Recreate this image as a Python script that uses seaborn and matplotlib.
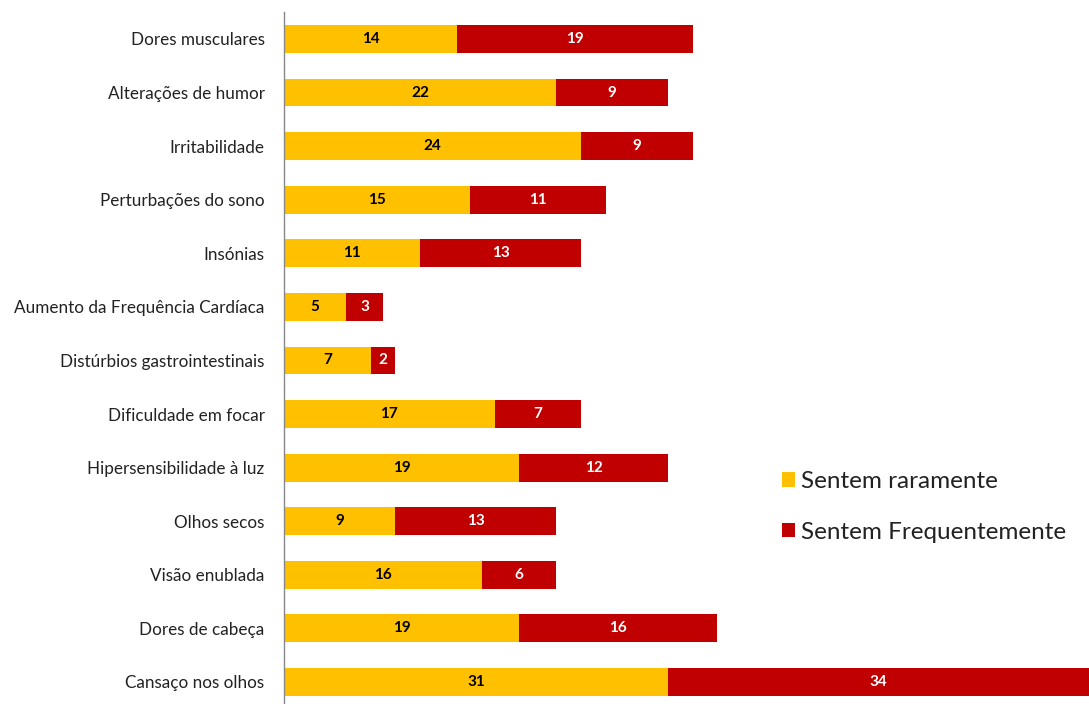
import matplotlib
matplotlib.use("Agg")
import matplotlib.pyplot as plt
from matplotlib.patches import Patch
import seaborn as sns
import pandas as pd

categories = ["Dores musculares", "Alterações de humor", "Irritabilidade",
              "Perturbações do sono", "Insónias", "Aumento da Frequência Cardíaca",
              "Distúrbios gastrointestinais", "Dificuldade em focar",
              "Hipersensibilidade à luz", "Olhos secos", "Visão enublada",
              "Dores de cabeça", "Cansaço nos olhos"]
raramente = [14, 22, 24, 15, 11, 5, 7, 17, 19, 9, 16, 19, 31]
frequentemente = [19, 9, 9, 11, 13, 3, 2, 7, 12, 13, 6, 16, 34]
series_names = ["Sentem raramente", "Sentem Frequentemente"]

yellow = "#FFC000"
red = "#C00000"

sns.set_style("white")
plt.rcParams['font.family'] = ['Lato', 'DejaVu Sans']

df = pd.DataFrame({"cat": categories, "rare": raramente, "freq": frequentemente})
df["total"] = df["rare"] + df["freq"]

fig = plt.figure(figsize=(10.89, 7.04), dpi=100)
ax = fig.add_axes([284/1089, -0.0068, (1089-284)/1089, 0.9895])

sns.barplot(data=df, y="cat", x="total", color=red, width=0.52, ax=ax,
            orient="h", saturation=1, linewidth=0)
sns.barplot(data=df, y="cat", x="rare", color=yellow, width=0.52, ax=ax,
            orient="h", saturation=1, linewidth=0)

for i, (r, f) in enumerate(zip(raramente, frequentemente)):
    ax.text(r / 2, i, str(r), ha="center", va="center", fontsize=11,
            fontweight="bold", color="black")
    ax.text(r + f / 2, i, str(f), ha="center", va="center", fontsize=11,
            fontweight="bold", color="white")

ax.set_xlim(0, 65)
ax.set_ylim(len(categories) - 0.5, -0.5)
ax.set_xlabel("")
ax.set_ylabel("")
ax.set_xticks([])
ax.tick_params(axis="y", length=0, pad=14, labelsize=12.3, labelcolor="#222222")
for s in ["top", "right", "bottom"]:
    ax.spines[s].set_visible(False)
ax.spines["left"].set_color("#888888")
ax.spines["left"].set_linewidth(1)

handles = [Patch(facecolor=yellow, edgecolor="none"), Patch(facecolor=red, edgecolor="none")]
fig.legend(handles, series_names, loc="upper left", bbox_to_anchor=(760/1089, 1 - 449/704),
           frameon=False, fontsize=17.5, handlelength=0.55, handleheight=0.55,
           handletextpad=0.25, labelspacing=1.22, labelcolor="#222222")

fig.savefig("out.png", dpi=100)
